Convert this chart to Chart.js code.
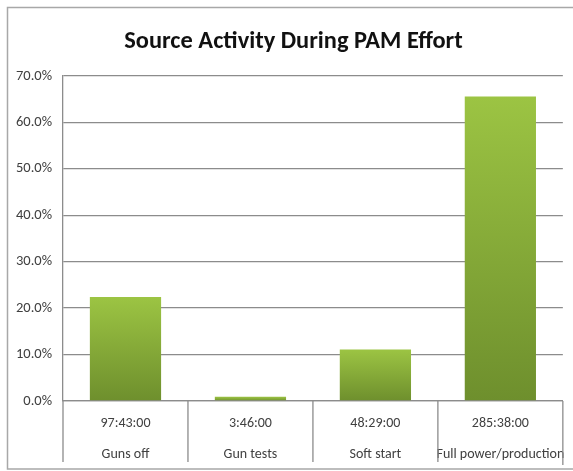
<!DOCTYPE html>
<html>
<head>
<meta charset="utf-8">
<script src="https://cdn.jsdelivr.net/npm/chart.js@4"></script>
<style>
  html, body { margin: 0; padding: 0; background: #fff; }
  #wrap { width: 573px; height: 471px; }
</style>
</head>
<body>
<div id="wrap"><canvas id="activityChart" width="573" height="471"></canvas></div>
<script>
// Source activity shares (% of PAM effort time)
const activities = ["Guns off", "Gun tests", "Soft start", "Full power/production"];
const durations = ["97:43:00", "3:46:00", "48:29:00", "285:38:00"];
const shares = [22.4, 0.9, 11.1, 65.6];
const yTicks = [0, 10, 20, 30, 40, 50, 60, 70];

const TITLE = "Source Activity During PAM Effort";
const FONT = "Carlito, Lato, sans-serif";
const GRID = "#8c8c8c";

// outer frame round the chart (left, top, bottom edges)
const framePlugin = {
  id: "frame",
  beforeDraw(chart) {
    const ctx = chart.ctx;
    ctx.save();
    ctx.strokeStyle = "#a8a8a8";
    ctx.lineWidth = 1.5;
    ctx.beginPath();
    ctx.moveTo(573, 7.5);
    ctx.lineTo(7.5, 7.5);
    ctx.lineTo(7.5, 469);
    ctx.lineTo(573, 469);
    ctx.stroke();
    ctx.restore();
  }
};

// title, sitting a little left of the plot centre
const titlePlugin = {
  id: "headline",
  afterDraw(chart) {
    const ctx = chart.ctx;
    ctx.save();
    ctx.font = "bold 24.4px " + FONT;
    ctx.fillStyle = "#111";
    ctx.textAlign = "center";
    ctx.textBaseline = "alphabetic";
    ctx.fillText(TITLE, chart.width / 2 + 7, 47.5);
    ctx.restore();
  }
};

// table-style dividers between the category labels under the axis
const dividerPlugin = {
  id: "dividers",
  afterDraw(chart) {
    const x = chart.scales.x;
    const n = activities.length;
    const step = (x.right - x.left) / n;
    const ctx = chart.ctx;
    ctx.save();
    ctx.strokeStyle = GRID;
    ctx.lineWidth = 1.3;
    ctx.beginPath();
    for (let i = 0; i <= n; i++) {
      const px = x.left + i * step;
      ctx.moveTo(px, x.top);
      ctx.lineTo(px, x.top + (i === n ? 64 : 61));
    }
    ctx.stroke();
    ctx.restore();
  }
};

// per-bar vertical gradient, light green on top to olive at the base
function barFill(context) {
  const chart = context.chart;
  const y = chart.scales.y;
  if (!chart.chartArea || !y) return "#86ad3a";
  const top = y.getPixelForValue(context.raw);
  const base = y.getPixelForValue(0);
  const g = chart.ctx.createLinearGradient(0, top, 0, Math.max(base, top + 1));
  g.addColorStop(0, "#9cc443");
  g.addColorStop(1, "#6e8f2d");
  return g;
}

new Chart(document.getElementById("activityChart"), {
  type: "bar",
  data: {
    labels: activities.map((a, i) => [durations[i], a]),
    datasets: [{
      label: "Share of effort",
      data: shares,
      backgroundColor: barFill,
      borderWidth: 0,
      barPercentage: 0.57,
      categoryPercentage: 1
    }]
  },
  options: {
    responsive: false,
    animation: false,
    layout: { padding: { left: 0, right: 10, top: 76, bottom: 4 } },
    plugins: {
      legend: { display: false },
      tooltip: { enabled: false },
      title: { display: false }
    },
    scales: {
      x: {
        afterFit(scale) {
          scale.height = 66;
        },
        grid: { display: false, drawTicks: false },
        border: { display: true, color: GRID, width: 1.3 },
        ticks: {
          color: "#404040",
          padding: 7.5,
          maxRotation: 0,
          autoSkip: false,
          font: { family: FONT, size: 14, lineHeight: 2.2 }
        }
      },
      y: {
        min: 0,
        max: 70,
        afterBuildTicks(scale) {
          scale.ticks = yTicks.map(v => ({ value: v }));
        },
        afterFit(scale) {
          scale.width = 63;
        },
        grid: {
          drawTicks: false,
          color: GRID,
          lineWidth: 1.3
        },
        border: { display: true, color: GRID, width: 1.3 },
        ticks: {
          color: "#404040",
          padding: 11,
          font: { family: FONT, size: 14.5 },
          callback: v => v.toFixed(1) + "%"
        }
      }
    }
  },
  plugins: [framePlugin, titlePlugin, dividerPlugin]
});
</script>
</body>
</html>
